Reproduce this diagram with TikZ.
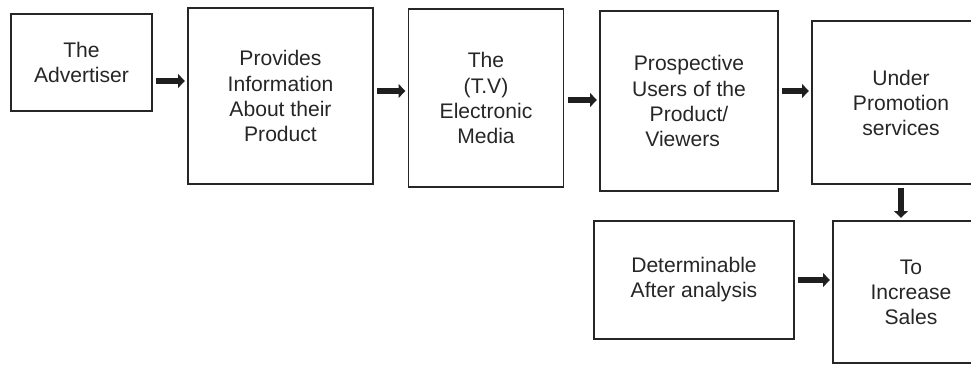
\documentclass[tikz,border=0pt]{standalone}
\usepackage{fontspec}
\setmainfont{Liberation Sans}
\usetikzlibrary{arrows.meta}

\begin{document}
\begin{tikzpicture}[x=0.025cm, y=-0.025cm,
    box/.style = {draw=black!85, line width=1pt, align=center, text=black!85,
                  font=\fontsize{15}{17.8}\selectfont, inner sep=0pt},
    flow/.style = {line width=4pt, black!88,
                   -{Triangle[length=0.17cm, width=0.34cm]},
                   shorten <=0.09cm, shorten >=0.06cm}]
    \useasboundingbox (0, 0) rectangle (971, 365);
    \clip (0, 0) rectangle (971, 365);
    \node[box, minimum width=3.525cm, minimum height=2.425cm] (Advertiser) at (81.5, 62.5) {The\\Advertiser};
    \node[box, minimum width=4.625cm, minimum height=4.4cm] (Information) at (280.5, 96) {Provides\\Information\\About their\\Product};
    \node[box, minimum width=3.875cm, minimum height=4.45cm] (Media) at (486, 98) {The\\(T.V)\\Electronic\\Media};
    \node[box, minimum width=4.45cm, minimum height=4.5cm] (Users) at (689, 101) {Prospective\\Users of the\\Product/\\Viewers\hspace*{0.6em}};
    \node[box, minimum width=4.45cm, minimum height=4.075cm] (Promotion) at (901, 102.5) {Under\\Promotion\\services};
    \node[box, minimum width=5cm, minimum height=2.95cm] (Analysis) at (694, 280) {Determinable\\After analysis};
    \node[box, minimum width=3.9cm, minimum height=3.55cm] (Sales) at (911, 292) {To\\Increase\\Sales};
    \draw[flow] (Advertiser.east |- 0, 81) -- (Information.west |- 0, 81);
    \draw[flow] (Information.east |- 0, 91) -- (Media.west |- 0, 91);
    \draw[flow] (Media.east |- 0, 100) -- (Users.west |- 0, 100);
    \draw[flow] (Users.east |- 0, 91) -- (Promotion.west |- 0, 91);
    \draw[flow] (Promotion.south) -- (Promotion.south |- Sales.north);
    \draw[flow] (Analysis.east |- 0, 280) -- (Sales.west |- 0, 280);
\end{tikzpicture}
\end{document}
